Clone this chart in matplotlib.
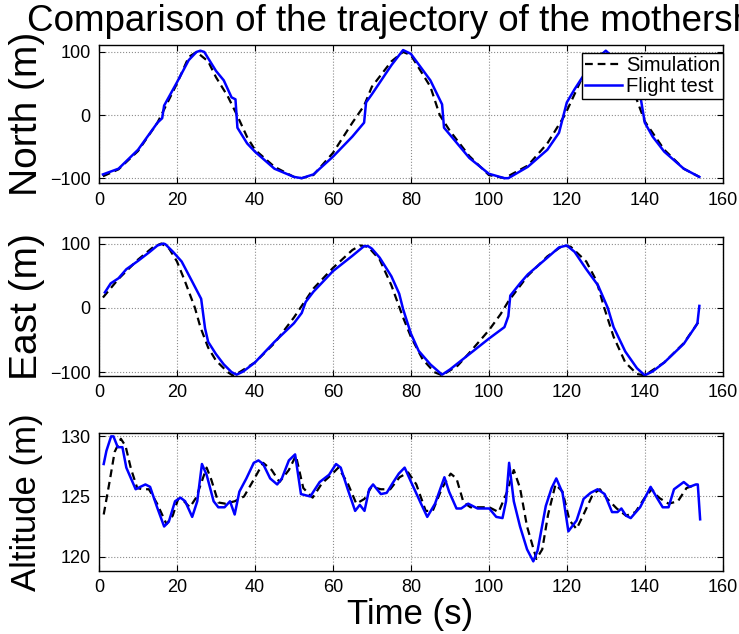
import matplotlib
matplotlib.use('Agg')
import matplotlib.pyplot as plt

plt.rcParams['font.family'] = ['Liberation Sans', 'DejaVu Sans']

# North (m)
t_n_sim = [1, 5, 10, 15, 20, 23, 25, 28, 30, 33, 35.4, 38, 40, 45, 50, 52, 55, 60, 65, 68, 70, 75, 78, 80, 85, 87.4, 90, 95, 100, 104, 110, 115, 119.5, 124, 128, 130, 134, 137, 140, 145, 150, 154]
n_sim = [-97, -86, -57, -12, 50, 92, 100, 85, 60, 30, 0, -35, -55, -82, -98, -100, -95, -60, -12, 15, 45, 85, 100, 95, 45, 0, -25, -65, -95, -100, -80, -45, 0, 60, 95, 100, 85, 40, -10, -55, -85, -98]
t_n_fl = [1, 5, 10, 15, 16.2, 16.7, 20, 23, 25, 26, 27, 30, 32, 34, 35, 35.5, 38, 40, 45, 50, 52, 55, 60, 65, 68, 68.5, 70, 75, 78, 80, 85, 88, 88.5, 90, 95, 100, 104, 105, 110, 115, 118, 120, 122, 124, 126, 130, 133, 137, 139, 140, 142, 145, 150, 154]
n_fl = [-94, -85, -55, -12, -5, 15, 52, 87, 100, 102, 100, 70, 55, 28, 25, -20, -45, -58, -85, -98, -100, -94, -66, -34, -12, 20, 33, 79, 103, 97, 55, 17, -20, -31, -68, -93, -100, -100, -82, -55, -28, 20, 41, 60, 79, 102, 85, 40, 25, -12, -34, -58, -85, -98]

# East (m)
t_e_sim = [1, 5, 10, 14, 16, 18, 20, 22, 24.6, 26, 28, 30, 33, 34.5, 40, 45, 50, 55, 60, 65, 67, 69, 72, 75, 78, 80, 83, 86, 88, 92, 95, 100, 103, 105, 110, 115, 119, 121, 125, 127.6, 129.6, 132, 135, 138, 140, 145, 150, 154]
e_sim = [16, 45, 75, 95, 100, 92, 72, 42, 0, -30, -62, -82, -100, -106, -85, -55, -15, 30, 62, 90, 97, 95, 75, 35, -15, -45, -80, -100, -105, -90, -70, -35, -10, 10, 50, 80, 97, 95, 72, 42, 0, -45, -85, -103, -105, -85, -55, -20]
t_e_fl = [1.5, 3, 5, 7, 10, 13, 15, 16.5, 17, 19, 21.2, 23.8, 26.2, 27.2, 28, 30, 32, 34, 35.3, 37, 40, 45, 50, 52, 53, 55, 60, 65, 68, 69, 70, 72, 75, 77, 78, 80, 82, 85, 88, 90, 95, 100, 104, 105, 105.5, 108, 110, 115, 118, 120, 122, 125, 128, 130.5, 132, 135, 138, 140, 142, 145, 150, 153, 153.5, 154]
e_fl = [24, 38, 46, 60, 73, 87, 97, 100, 99, 87, 72, 42, 14, -32, -53, -72, -88, -100, -104, -99, -85, -53, -24, -8, 9, 25, 57, 81, 96, 96, 92, 78, 49, 22, -2, -40, -67, -88, -104, -96, -72, -48, -30, -13, 19, 38, 52, 78, 94, 97, 87, 60, 35, 0, -30, -68, -94, -105, -99, -85, -56, -29, -24, 3]

# Altitude (m)
t_a_sim = [1.2, 2.8, 4, 5.6, 6.8, 8.2, 9.8, 11.2, 12.8, 14.9, 17.3, 18.9, 20.3, 21.8, 23.3, 24.9, 27.6, 28.8, 30.6, 32.4, 34.8, 37.2, 39.7, 42.1, 44.3, 46.3, 48.7, 50.5, 52.4, 54.8, 57.2, 59.6, 61.4, 63.8, 66, 68.1, 69.9, 72.3, 74.7, 77.1, 79.3, 81.4, 83.8, 85.6, 88, 90.2, 91.7, 93.5, 95.3, 100.1, 102.5, 104.7, 106.4, 108, 109.8, 112.2, 113.7, 115.2, 117.1, 118.9, 120.7, 122.5, 124.3, 126.7, 128.5, 130.4, 132.8, 135.2, 137.6, 140, 141.8, 143.6, 146.1, 148.5, 150.7, 153.3]
a_sim = [123.5, 126.4, 128.7, 129.8, 129.2, 127.3, 125.7, 125.6, 125.6, 124.4, 122.7, 123.4, 124.8, 124.6, 124.1, 124.9, 127.4, 126.4, 124.5, 124.4, 124.6, 125.0, 126.4, 127.8, 127.2, 126.2, 127.2, 128.4, 125.7, 124.9, 126.1, 126.8, 127.4, 126.1, 124.4, 124.8, 125.8, 125.6, 125.6, 126.6, 127.0, 126.0, 123.8, 123.8, 125.7, 126.9, 126.5, 124.5, 124.1, 124.1, 123.7, 125.4, 127.2, 125.7, 122.5, 119.8, 120.6, 123.5, 126.0, 125.4, 123.0, 122.3, 123.5, 125.2, 125.6, 124.8, 124.0, 123.4, 123.7, 124.9, 125.6, 124.9, 124.4, 124.6, 125.7, 126.0]
t_a_fl = [1.2, 1.9, 3.1, 3.7, 4.8, 6, 7, 8.2, 9.4, 10.6, 11.9, 13.1, 14.9, 16.7, 17.9, 19.5, 20.9, 22.1, 23.9, 25.2, 26.4, 27.6, 29.4, 30.6, 32.2, 33.6, 34.8, 36, 37.8, 39.7, 40.9, 42.1, 43.9, 45.7, 46.9, 48.7, 50.3, 51.8, 54.2, 56.6, 59, 60.8, 62, 63.8, 65.7, 66.9, 68.1, 69.3, 70.3, 72.3, 73.8, 75.3, 76.9, 78.4, 80.2, 82.6, 84.2, 86.2, 88.6, 89.8, 91.7, 92.9, 94.7, 95.9, 97.1, 100.1, 101.9, 103.5, 104.4, 105.2, 106.4, 108, 109.8, 111.4, 112.5, 114.6, 116.1, 117.3, 118.9, 120.4, 122.5, 124.3, 126.1, 127.9, 129.7, 131.6, 133, 134, 135.2, 136.4, 138.8, 141.5, 143.1, 144.6, 146.1, 147.5, 150, 151.5, 153.1, 153.6, 154.2]
a_fl = [127.7, 128.8, 130.0, 130.0, 129.1, 129.1, 127.4, 126.5, 125.6, 125.8, 126.0, 125.8, 124.1, 122.5, 122.9, 124.6, 124.9, 124.6, 123.3, 124.6, 127.7, 126.8, 124.6, 124.1, 124.1, 124.6, 123.5, 125.4, 126.5, 127.8, 128.0, 127.7, 126.5, 126.0, 126.5, 128.0, 128.5, 125.2, 125.0, 126.2, 126.8, 127.7, 127.4, 125.6, 123.8, 124.3, 123.8, 125.6, 126.0, 125.2, 125.3, 126.1, 126.9, 127.4, 126.1, 124.4, 123.3, 124.4, 126.6, 125.4, 124.0, 124.0, 124.4, 124.2, 124.0, 124.0, 123.3, 123.2, 124.6, 127.8, 124.6, 122.5, 120.6, 119.6, 120.5, 124.2, 125.7, 126.5, 125.3, 122.1, 123.0, 124.8, 125.3, 125.6, 125.2, 123.7, 123.7, 124.0, 123.4, 123.2, 124.1, 125.8, 124.9, 124.1, 124.1, 125.6, 126.2, 125.8, 126.0, 126.0, 123.1]

x_ticks = [0, 20, 40, 60, 80, 100, 120, 140, 160]

fig = plt.figure(figsize=(7.39, 6.34), dpi=100, facecolor='white')

panels = [
    ([0.134, 0.711, 0.844, 0.218], t_n_sim, n_sim, t_n_fl, n_fl, (-108, 111), [-100, 0, 100], 'North (m)', 28),
    ([0.134, 0.407, 0.844, 0.219], t_e_sim, e_sim, t_e_fl, e_fl, (-106, 110), [-100, 0, 100], 'East (m)', 28),
    ([0.134, 0.0994, 0.844, 0.218], t_a_sim, a_sim, t_a_fl, a_fl, (118.8, 130.3), [120, 125, 130], 'Altitude (m)', 25),
]

axes = []
for rect, ts, ys, tf, yf, ylim, yt, lab, fs in panels:
    ax = fig.add_axes(rect)
    ax.plot(ts, ys, color='black', lw=1.6, linestyle=(0, (3.5, 2.2)), label='Simulation')
    ax.plot(tf, yf, color='blue', lw=1.8, label='Flight test')
    ax.set_xlim(0, 160)
    ax.set_ylim(*ylim)
    ax.set_xticks(x_ticks)
    ax.set_yticks(yt)
    ax.set_yticklabels(['\u2212100' if v == -100 else str(v) for v in yt])
    ax.grid(True, color='0.55', linestyle=':', lw=0.8)
    ax.tick_params(direction='in', top=True, right=True, length=4, labelsize=13, pad=6)
    for s in ax.spines.values():
        s.set_linewidth(1.0)
    mid = rect[1] + rect[3] / 2
    fig.text(0.036, mid, lab, rotation=90, ha='center', va='center', fontsize=fs)
    axes.append(ax)

leg = axes[0].legend(loc='upper right', bbox_to_anchor=(1.0, 0.942), borderaxespad=0,
                     fancybox=False, edgecolor='black', framealpha=1, fontsize=14.5,
                     handlelength=1.8, handletextpad=0.2, labelspacing=0.12, borderpad=0.15)
leg.get_frame().set_linewidth(1.0)

fig.text(27 / 739, 1 - 31 / 634, 'Comparison of the trajectory of the mothership', fontsize=26.5, ha='left', va='baseline')
fig.text(410 / 739, 1 - 624 / 634, 'Time (s)', fontsize=25, ha='center', va='baseline')

fig.savefig('out.png', dpi=100)
